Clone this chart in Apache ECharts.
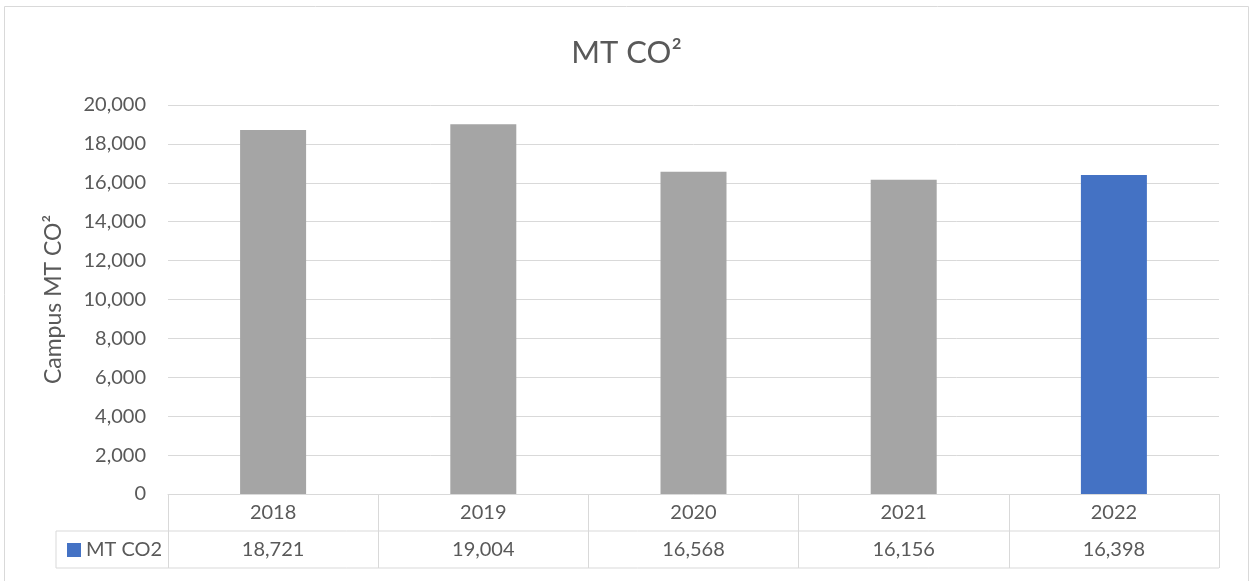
<!DOCTYPE html>
<html>
<head>
<meta charset="utf-8">
<title>MT CO2</title>
<script src="https://cdn.jsdelivr.net/npm/echarts@6/dist/echarts.min.js"></script>
<style>
	html, body { margin: 0; padding: 0; background: #fff; }
	#main { width: 1253px; height: 581px; }
</style>
</head>
<body>
<div id="main"></div>
<script>
const years = ['2018', '2019', '2020', '2021', '2022'];
const mtCo2 = [18721, 19004, 16568, 16156, 16398];
const yTicks = [0, 2000, 4000, 6000, 8000, 10000, 12000, 14000, 16000, 18000, 20000];

const FONT = 'Lato, "Open Sans", sans-serif';
const TEXT = '#595959';
const LINE = '#D9D9D9';
const GRAY = '#A5A5A5';
const BLUE = '#4472C4';

// plot area, the data table hangs below it
const plot = { left: 168, right: 1219, top: 105, bottom: 494 };
const rowH = 37;
const legendCellLeft = 56;

function fmt(v) {
	return v.toLocaleString('en-US');
}

function tableLines() {
	const y1 = plot.bottom + rowH;
	const y2 = plot.bottom + rowH * 2;
	const line = (x1, ya, x2, yb) => ({
		type: 'line',
		shape: { x1: x1, y1: ya, x2: x2, y2: yb },
		style: { stroke: LINE, lineWidth: 1 },
		silent: true
	});
	return [
		// chart border
		{
			type: 'rect',
			shape: { x: 4.5, y: 6.5, width: 1244, height: 600 },
			style: { fill: null, stroke: LINE, lineWidth: 1 },
			silent: true
		},
		line(legendCellLeft, y1, plot.right, y1),
		line(legendCellLeft, y2, plot.right, y2),
		line(legendCellLeft, y1, legendCellLeft, y2)
	];
}

const chart = echarts.init(document.getElementById('main'));

chart.setOption({
	animation: false,
	textStyle: { fontFamily: FONT },
	title: {
		text: 'MT CO²',
		left: 'center',
		top: 32,
		textStyle: { fontFamily: FONT, fontSize: 31, fontWeight: 'normal', color: TEXT }
	},
	legend: {
		left: legendCellLeft + 6,
		top: plot.bottom + rowH + 4,
		icon: 'rect',
		itemWidth: 14,
		itemHeight: 14,
		itemGap: 5,
		textStyle: { fontFamily: FONT, fontSize: 20, color: TEXT },
		data: ['MT CO2']
	},
	grid: {
		left: plot.left,
		right: 1253 - plot.right,
		top: plot.top,
		bottom: 581 - plot.bottom,
		containLabel: false
	},
	xAxis: [
		{
			type: 'category',
			data: years,
			axisLine: { show: true, lineStyle: { color: LINE } },
			axisTick: { show: true, length: rowH * 2, lineStyle: { color: LINE } },
			axisLabel: { fontFamily: FONT, fontSize: 20, color: TEXT, margin: 9 }
		},
		{
			type: 'category',
			position: 'bottom',
			offset: rowH,
			data: mtCo2.map(fmt),
			axisLine: { show: false },
			axisTick: { show: false },
			axisLabel: { fontFamily: FONT, fontSize: 20, color: TEXT, margin: 9 }
		}
	],
	yAxis: {
		type: 'value',
		min: yTicks[0],
		max: yTicks[yTicks.length - 1],
		interval: yTicks[1] - yTicks[0],
		name: 'Campus MT CO²',
		nameLocation: 'middle',
		nameRotate: 90,
		nameGap: 103,
		nameTextStyle: { fontFamily: FONT, fontSize: 23, color: TEXT },
		axisLine: { show: false },
		axisTick: { show: false },
		axisLabel: { fontFamily: FONT, fontSize: 20, color: TEXT, margin: 22, formatter: fmt },
		splitLine: { lineStyle: { color: LINE, width: 1 } }
	},
	series: [
		{
			name: 'MT CO2',
			type: 'bar',
			color: BLUE,
			barWidth: '31.4%',
			data: mtCo2.map((v, i) => ({
				value: v,
				itemStyle: { color: i === mtCo2.length - 1 ? BLUE : GRAY }
			}))
		}
	],
	graphic: tableLines()
});
</script>
</body>
</html>
